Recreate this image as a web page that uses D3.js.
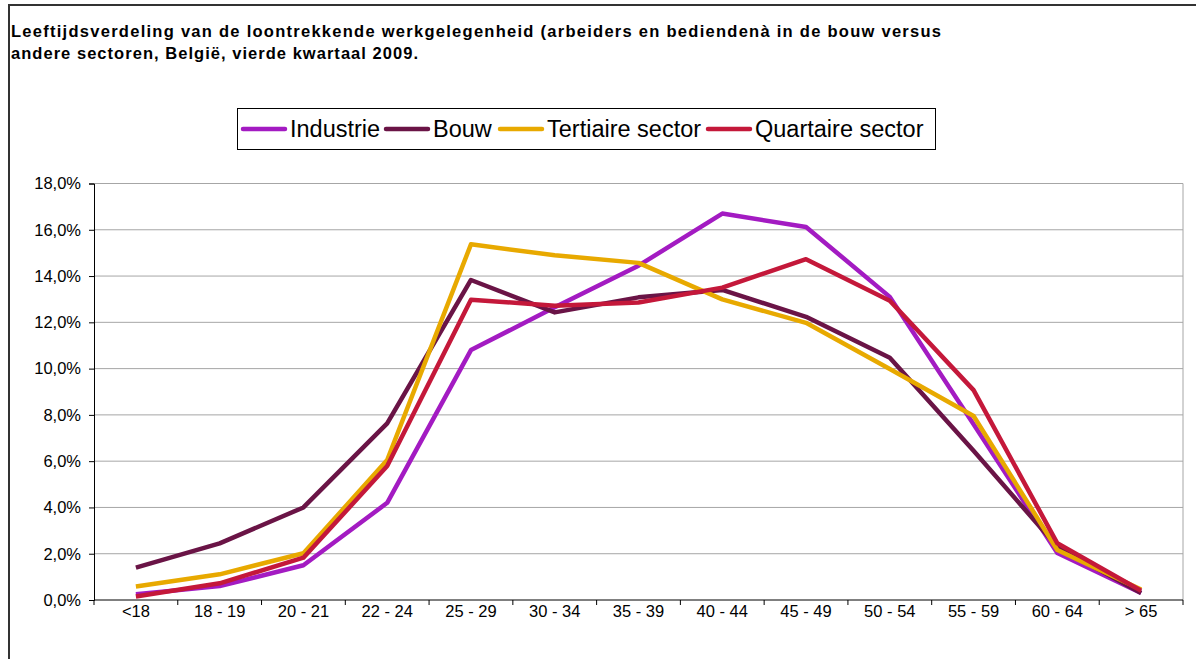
<!DOCTYPE html>
<html>
<head>
<meta charset="utf-8">
<script src="https://cdn.jsdelivr.net/npm/d3@7"></script>
<style>
  body { margin: 0; background: #fff; }
  svg { display: block; font-family: "Liberation Sans", Arial, sans-serif; }
</style>
</head>
<body>
<div id="chart"></div>
<script>
// Data (percentages)
const categories = ["<18", "18 - 19", "20 - 21", "22 - 24", "25 - 29", "30 - 34", "35 - 39",
                    "40 - 44", "45 - 49", "50 - 54", "55 - 59", "60 - 64", "> 65"];
const industrie = [0.25, 0.6, 1.5, 4.2, 10.8, 12.65, 14.45, 16.7, 16.12, 13.1, 7.6, 2.03, 0.3];
const bouw      = [1.4, 2.45, 4.0, 7.63, 13.83, 12.43, 13.08, 13.4, 12.24, 10.47, 6.45, 2.3, 0.3];
const tertiaire = [0.58, 1.11, 2.02, 6.05, 15.37, 14.9, 14.57, 12.99, 11.98, 9.98, 7.95, 2.16, 0.45];
const quartaire = [0.15, 0.72, 1.83, 5.79, 12.98, 12.72, 12.86, 13.5, 14.73, 12.93, 9.07, 2.45, 0.4];
const seriesNames = ["Industrie", "Bouw", "Tertiaire sector", "Quartaire sector"];
const yTicks = [0, 2, 4, 6, 8, 10, 12, 14, 16, 18];

const colors = ["#A31BC2", "#6A1446", "#E8A900", "#C4183A"];
const series = [industrie, bouw, tertiaire, quartaire].map((v, i) => ({ name: seriesNames[i], values: v, color: colors[i] }));

const W = 1196, H = 659;
const plot = { left: 94, right: 1183, top: 183.5, bottom: 600 };

const svg = d3.select("#chart").append("svg")
    .attr("width", W)
    .attr("height", H);

// outer frame
svg.append("rect")
    .attr("x", 9).attr("y", 5)
    .attr("width", W + 10).attr("height", H + 10)
    .attr("fill", "none")
    .attr("stroke", "#333")
    .attr("stroke-width", 2);

// title
const title = svg.append("g").attr("font-weight", "bold").attr("font-size", 16.5).attr("fill", "#000");
title.append("text").attr("x", 11).attr("y", 37)
    .attr("textLength", 930).attr("lengthAdjust", "spacing")
    .text("Leeftijdsverdeling van de loontrekkende werkgelegenheid (arbeiders en bediendenà in de bouw versus");
title.append("text").attr("x", 11).attr("y", 59)
    .attr("textLength", 407).attr("lengthAdjust", "spacing")
    .text("andere sectoren, België, vierde kwartaal 2009.");

// scales
const x = d3.scaleBand().domain(categories).range([plot.left, plot.right]);
const y = d3.scaleLinear().domain([0, 18]).range([plot.bottom, plot.top]);

// grid lines
svg.append("g")
    .selectAll("line")
    .data(yTicks.slice(1))
    .join("line")
    .attr("x1", plot.left).attr("x2", plot.right)
    .attr("y1", d => y(d)).attr("y2", d => y(d))
    .attr("stroke", "#a6a6a6")
    .attr("stroke-width", 1);

// right border of plot area
svg.append("line")
    .attr("x1", plot.right).attr("x2", plot.right)
    .attr("y1", plot.top).attr("y2", plot.bottom)
    .attr("stroke", "#a6a6a6");

// y axis
const yAxis = d3.axisLeft(y)
    .tickValues(yTicks)
    .tickSize(5)
    .tickPadding(8)
    .tickFormat(d => d3.format(".1f")(d).replace(".", ",") + "%");
const gy = svg.append("g")
    .attr("transform", `translate(${plot.left},0)`)
    .call(yAxis);
gy.attr("font-size", 16.5).attr("font-family", "Liberation Sans, Arial, sans-serif");
gy.select(".domain").attr("stroke", "#000");
gy.selectAll(".tick line").attr("stroke", "#000");
gy.selectAll("text").attr("fill", "#000");

// x axis with ticks between categories
const gx = svg.append("g")
    .attr("transform", `translate(0,${plot.bottom})`);
gx.append("line")
    .attr("x1", plot.left).attr("x2", plot.right)
    .attr("stroke", "#000");
gx.selectAll("line.tk")
    .data(categories.map(c => x(c)).concat([plot.right]))
    .join("line")
    .attr("class", "tk")
    .attr("x1", d => d).attr("x2", d => d)
    .attr("y1", 0).attr("y2", 5)
    .attr("stroke", "#000");
gx.selectAll("text")
    .data(categories)
    .join("text")
    .attr("x", d => x(d) + x.bandwidth() / 2)
    .attr("y", 17)
    .attr("text-anchor", "middle")
    .attr("font-size", 16.5)
    .attr("fill", "#000")
    .text(d => d);

// lines
const line = d3.line()
    .x((d, i) => x(categories[i]) + x.bandwidth() / 2)
    .y(d => y(d));

svg.append("g")
    .selectAll("path")
    .data(series)
    .join("path")
    .attr("d", d => line(d.values))
    .attr("fill", "none")
    .attr("stroke", d => d.color)
    .attr("stroke-width", 4.5)
    .attr("stroke-linejoin", "round");

// legend
const legend = svg.append("g");
legend.append("rect")
    .attr("x", 237.5).attr("y", 108.5)
    .attr("width", 698).attr("height", 41)
    .attr("fill", "#fff")
    .attr("stroke", "#000");
const legendX = [243, 386, 500, 708];
const items = legend.selectAll("g.item")
    .data(series)
    .join("g")
    .attr("class", "item")
    .attr("transform", (d, i) => `translate(${legendX[i]},129)`);
items.append("line")
    .attr("x1", 0).attr("x2", 42)
    .attr("stroke", d => d.color)
    .attr("stroke-width", 4.5)
    .attr("stroke-linecap", "round");
items.append("text")
    .attr("x", 47)
    .attr("y", 8)
    .attr("font-size", 23.5)
    .attr("fill", "#000")
    .text(d => d.name);
</script>
</body>
</html>
